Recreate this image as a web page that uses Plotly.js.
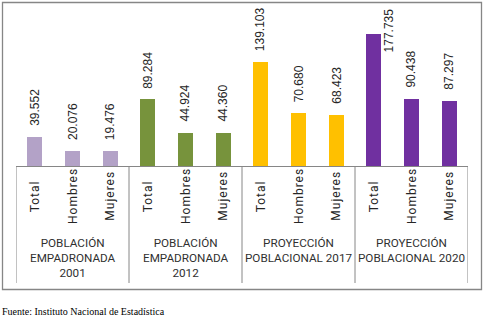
<!DOCTYPE html>
<html>
<head>
<meta charset="utf-8">
<script src="https://cdn.plot.ly/plotly-3.0.1.min.js"></script>
<style>html,body{margin:0;padding:0;background:#fff;}#chart{width:486px;height:326px;}</style>
</head>
<body>
<div id="chart"></div>
<script>
// ---- data ----
const groups = [
  "POBLACIÓN<br>EMPADRONADA<br>2001",
  "POBLACIÓN<br>EMPADRONADA<br>2012",
  "PROYECCIÓN<br>POBLACIONAL 2017",
  "PROYECCIÓN<br>POBLACIONAL 2020"
];
const categories = ["Total", "Hombres", "Mujeres"];
const values2001 = [39552, 20076, 19476];
const values2012 = [89284, 44924, 44360];
const values2017 = [139103, 70680, 68423];
const values2020 = [177735, 90438, 87297];
const source = "Fuente: Instituto Nacional de Estadística";

const groupColors = ["#B3A2C7", "#77933C", "#FFC000", "#7030A0"];
const allValues = [values2001, values2012, values2017, values2020];

// ---- layout geometry (pixels) ----
const W = 486, H = 326;
const L = 16, T = 17, PW = 452, PH = 149; // plot area
const YMAX = 200000;
const px2x = px => (px - L) / PW;
const px2y = py => (T + PH - py) / PH;

const fmt = v => String(v).replace(/\B(?=(\d{3})+(?!\d))/g, ".");

const traces = [];
const annotations = [];
const shapes = [];
let idx = 0;
allValues.forEach((vals, g) => {
  const xs = vals.map((_, i) => idx + i);
  traces.push({
    type: "bar",
    x: xs,
    y: vals,
    width: 0.4,
    marker: {color: groupColors[g]},
    hoverinfo: "skip",
    showlegend: false
  });
  vals.forEach((v, i) => {
    const tooHigh = v > 0.85 * YMAX; // no room above: put label beside the bar
    annotations.push({
      x: xs[i], y: v, xref: "x", yref: "y",
      text: fmt(v), textangle: -90, showarrow: false,
      xanchor: "center", yanchor: tooHigh ? "middle" : "bottom",
      yshift: tooHigh ? 3 : 9, xshift: tooHigh ? 15 : 0,
      font: {family: "Liberation Sans, Arial, sans-serif", size: 12, color: "#262626"}
    });
    annotations.push({
      x: xs[i], y: px2y(196), xref: "x", yref: "paper",
      text: categories[i], textangle: -90, showarrow: false,
      xanchor: "center", yanchor: "middle",
      font: {family: "Roboto, sans-serif", size: 12, color: "#262626"}
    });
  });
  annotations.push({
    x: idx + 1, y: px2y(233.5), xref: "x", yref: "paper",
    text: groups[g], showarrow: false, xanchor: "center", yanchor: "top",
    align: "center",
    font: {family: "Roboto, sans-serif", size: 11.7, color: "#303030"}
  });
  idx += vals.length;
});

// group separators
for (let b = 0; b <= allValues.length; b++) {
  const xb = b * 3 - 0.5;
  shapes.push({type: "line", xref: "x", yref: "paper", x0: xb, x1: xb,
    y0: 0, y1: px2y(283), line: {color: "#868686", width: 1}});
}
// outer border
shapes.push({type: "rect", xref: "paper", yref: "paper",
  x0: px2x(2.5), x1: px2x(481.5), y0: px2y(2.5), y1: px2y(289.5),
  line: {color: "#868686", width: 1.3}, fillcolor: "rgba(0,0,0,0)"});

annotations.push({
  x: px2x(0), y: px2y(311), xref: "paper", yref: "paper",
  text: source, showarrow: false, xanchor: "left", yanchor: "middle",
  font: {family: "Liberation Serif, Times New Roman, serif", size: 10, color: "#000"}
});

const layout = {
  width: W, height: H,
  margin: {l: L, r: W - L - PW, t: T, b: H - T - PH, pad: 0},
  paper_bgcolor: "#fff", plot_bgcolor: "#fff",
  bargap: 0,
  xaxis: {range: [-0.5, 11.5], showticklabels: false, ticks: "", showgrid: false,
    zeroline: false, showline: true, linecolor: "#868686", linewidth: 1, fixedrange: true},
  yaxis: {range: [0, YMAX], visible: false, showgrid: false, zeroline: false, fixedrange: true},
  shapes: shapes,
  annotations: annotations
};

Plotly.newPlot("chart", traces, layout, {displayModeBar: false, staticPlot: true}).then(() => {
  // Excel-like wider spacing on the category labels
  document.querySelectorAll("#chart .annotation-text").forEach(t => {
    if (categories.indexOf(t.textContent) >= 0) t.style.letterSpacing = "1px";
  });
});
</script>
</body>
</html>
